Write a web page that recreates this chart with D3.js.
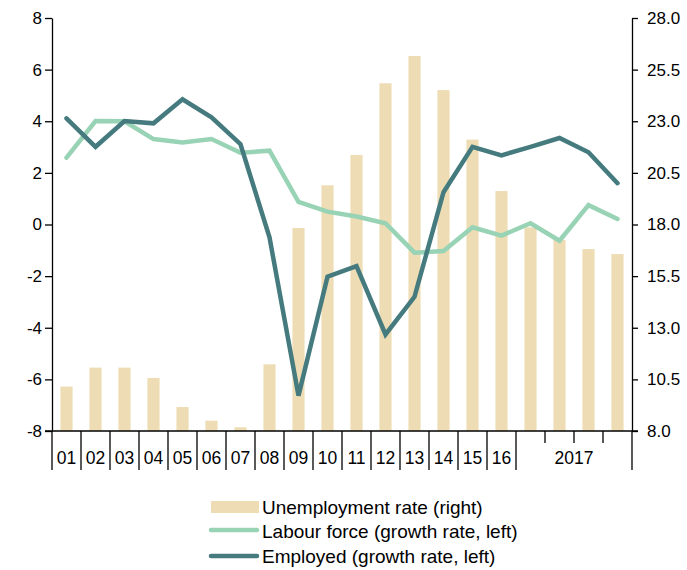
<!DOCTYPE html>
<html><head><meta charset="utf-8">
<script src="https://cdn.jsdelivr.net/npm/d3@7"></script>
<style>body{margin:0;background:#fff}svg{display:block;font-family:"Liberation Sans",Arial,sans-serif}</style>
</head><body><svg id="c" width="687" height="570"></svg>
<script>
const categories = ["01","02","03","04","05","06","07","08","09","10","11","12","13","14","15","16","2017Q1","2017Q2","2017Q3","2017Q4"];
const yearLabels = ["01","02","03","04","05","06","07","08","09","10","11","12","13","14","15","16"];
const lastYearLabel = "2017";
const unemployment = [10.15,11.07,11.07,10.57,9.16,8.5,8.18,11.23,17.83,19.9,21.37,24.84,26.16,24.51,22.11,19.62,17.86,17.25,16.81,16.57];
const labourForce = [2.59,4.01,4.0,3.31,3.18,3.31,2.78,2.86,0.88,0.5,0.31,0.05,-1.09,-1.03,-0.11,-0.43,0.05,-0.63,0.75,0.21];
const employed = [4.11,3.01,4.01,3.92,4.85,4.15,3.11,-0.5,-6.63,-2.02,-1.61,-4.26,-2.8,1.25,3.01,2.68,3.01,3.35,2.8,1.6];
const leftTicks = [-8,-6,-4,-2,0,2,4,6,8];
const rightTicks = [8,10.5,13,15.5,18,20.5,23,25.5,28];
const legendLabels = ["Unemployment rate (right)","Labour force (growth rate, left)","Employed (growth rate, left)"];

const colBar = "#EEDDB4", colLab = "#98D3B5", colEmp = "#457B7E";
const svg = d3.select("#c");
const L = 52, R = 632, T = 18, B = 431;

const xSlot = d3.scaleBand().domain(categories).range([L, R]).padding(0);
const xBar = d3.scaleBand().domain(categories).range([L, R]).paddingInner(0.58).paddingOuter(0.29);
const yL = d3.scaleLinear().domain([-8, 8]).range([B, T]);
const yR = d3.scaleLinear().domain([8, 28]).range([B, T]);
const cx = c => xSlot(c) + xSlot.bandwidth() / 2;

// bars
svg.append("g").selectAll("rect").data(categories).join("rect")
  .attr("x", c => xBar(c)).attr("width", xBar.bandwidth())
  .attr("y", (c, i) => yR(unemployment[i])).attr("height", (c, i) => yR(8) - yR(unemployment[i]))
  .attr("fill", colBar);

// lines
const line = d3.line().x(d => cx(d.c)).y(d => yL(d.v));
svg.append("path").datum(categories.map((c, i) => ({c, v: labourForce[i]})))
  .attr("d", line).attr("fill", "none").attr("stroke", colLab).attr("stroke-width", 4.5)
  .attr("stroke-linecap", "round").attr("stroke-linejoin", "miter");
svg.append("path").datum(categories.map((c, i) => ({c, v: employed[i]})))
  .attr("d", line).attr("fill", "none").attr("stroke", colEmp).attr("stroke-width", 4.5)
  .attr("stroke-linecap", "round").attr("stroke-linejoin", "miter");

// left axis
const gl = svg.append("g").attr("transform", `translate(${L},0)`)
  .call(d3.axisLeft(yL).tickValues(leftTicks).tickSize(7).tickSizeOuter(0).tickPadding(3).tickFormat(d => String(d)));
// right axis
const gr = svg.append("g").attr("transform", `translate(${R},0)`)
  .call(d3.axisRight(yR).tickValues(rightTicks).tickSize(6).tickSizeOuter(0).tickPadding(9).tickFormat(d3.format(".1f")));
[gl, gr].forEach(g => {
  g.selectAll("path,line").attr("stroke", "#000").attr("stroke-width", 1.3);
  g.selectAll("text").attr("fill", "#000").attr("font-size", 17).attr("font-family", "Liberation Sans, Arial, sans-serif");
});

// x axis
const gx = svg.append("g");
gx.append("line").attr("x1", L - 7).attr("x2", R + 6).attr("y1", B).attr("y2", B).attr("stroke", "#000").attr("stroke-width", 1.3);
const bounds = categories.map(c => xSlot(c)).concat([xSlot.range()[1]]);
gx.selectAll("line.t").data(bounds).join("line").attr("class", "t")
  .attr("x1", d => d).attr("x2", d => d).attr("y1", B)
  .attr("y2", (d, i) => (i > yearLabels.length && i < categories.length) ? B + 12 : B + 39)
  .attr("stroke", "#000").attr("stroke-width", 1.3);
gx.selectAll("text.y").data(yearLabels).join("text").attr("class", "y")
  .attr("x", d => cx(d)).attr("y", B + 33).attr("text-anchor", "middle")
  .attr("font-size", 17.5).attr("fill", "#000").text(d => d);
const q = categories.slice(yearLabels.length);
gx.append("text").attr("x", (xSlot(q[0]) + xSlot(q[q.length - 1]) + xSlot.bandwidth()) / 2).attr("y", B + 33)
  .attr("text-anchor", "middle").attr("font-size", 17.5).attr("fill", "#000").text(lastYearLabel);

// legend
const lg = svg.append("g");
lg.append("rect").attr("x", 211).attr("y", 501).attr("width", 48).attr("height", 12).attr("fill", colBar);
lg.append("line").attr("x1", 211).attr("x2", 257).attr("y1", 530).attr("y2", 530).attr("stroke", colLab).attr("stroke-width", 4.5).attr("stroke-linecap", "round");
lg.append("line").attr("x1", 211).attr("x2", 257).attr("y1", 556).attr("y2", 556).attr("stroke", colEmp).attr("stroke-width", 4.5).attr("stroke-linecap", "round");
lg.selectAll("text").data(legendLabels).join("text")
  .attr("x", 262).attr("y", (d, i) => [507, 531, 556][i]).attr("dy", "0.35em")
  .attr("font-size", 19).attr("fill", "#000").text(d => d);
</script></body></html>
